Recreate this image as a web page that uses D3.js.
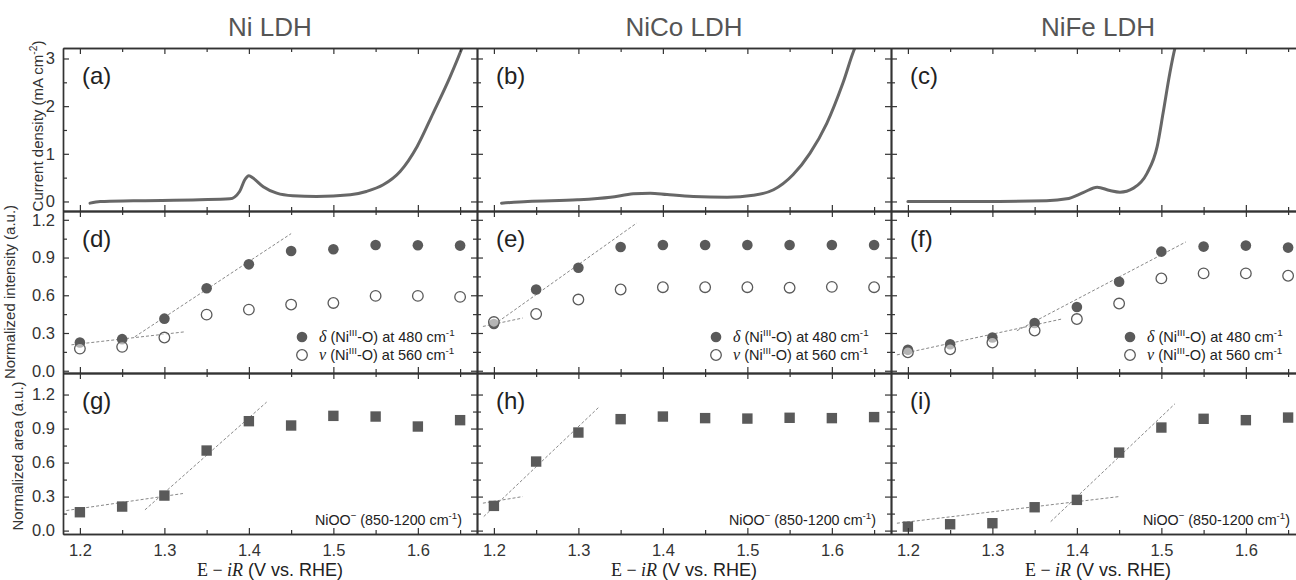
<!DOCTYPE html>
<html>
<head>
<meta charset="utf-8">
<script src="https://cdn.jsdelivr.net/npm/d3@7"></script>
<style>
body{margin:0;background:#fff;}
svg{display:block;font-family:"Liberation Sans",Arial,sans-serif;}
</style>
</head>
<body>
<svg id="fig" width="1296" height="580"></svg>
<script>
let samples=["Ni LDH","NiCo LDH","NiFe LDH"];
let tags=[["(a)","(b)","(c)"],["(d)","(e)","(f)"],["(g)","(h)","(i)"]];
let potential=[1.2,1.25,1.3,1.35,1.4,1.45,1.5,1.55,1.6,1.65];
let xMajor=[1.2,1.3,1.4,1.5,1.6];
let xMinor=[1.25,1.35,1.45,1.55,1.65];
let jMajor=[0,1,2,3], jMinor=[0.5,1.5,2.5];
let nMajor=[0,0.3,0.6,0.9,1.2], nMinor=[0.15,0.45,0.75,1.05];

// LSV curves [E, j]
let lsvNi=[[1.212,-0.035],[1.224,0.0],[1.263,0.015],[1.342,0.035],[1.3775,0.055],[1.389,0.21],[1.395,0.45],[1.4,0.54],[1.405,0.49],[1.417,0.31],[1.433,0.175],[1.452,0.12],[1.48,0.105],[1.52,0.14],[1.539,0.21],[1.559,0.35],[1.579,0.63],[1.599,1.15],[1.618,1.85],[1.638,2.61],[1.652,3.21],[1.655,3.35]];
let lsvNiCo=[[1.209,-0.035],[1.24,0.0],[1.299,0.035],[1.338,0.09],[1.365,0.16],[1.385,0.175],[1.405,0.145],[1.436,0.105],[1.476,0.09],[1.507,0.13],[1.531,0.245],[1.554,0.56],[1.574,1.01],[1.594,1.64],[1.613,2.48],[1.627,3.21],[1.632,3.4]];
let lsvNiFe=[[1.2,0.0],[1.286,0.0],[1.364,0.015],[1.388,0.055],[1.408,0.19],[1.424,0.3],[1.439,0.23],[1.451,0.195],[1.467,0.28],[1.483,0.59],[1.495,1.15],[1.502,1.85],[1.51,2.69],[1.516,3.21],[1.519,3.4]];

// normalized Raman intensities
let deltaNi=[0.224,0.251,0.414,0.656,0.846,0.952,0.966,1.0,0.998,0.995];
let nuNi=[0.176,0.19,0.264,0.446,0.486,0.526,0.539,0.595,0.595,0.587];
let deltaNiCo=[0.372,0.646,0.819,0.984,1.0,1.0,1.0,1.0,1.0,1.0];
let nuNiCo=[0.387,0.451,0.566,0.646,0.664,0.664,0.664,0.66,0.667,0.664];
let deltaNiFe=[0.166,0.211,0.264,0.379,0.507,0.707,0.947,0.987,0.995,0.979];
let nuNiFe=[0.147,0.171,0.224,0.32,0.411,0.534,0.734,0.774,0.774,0.755];

// normalized NiOO- areas
let areaNi=[0.162,0.212,0.309,0.706,0.965,0.927,1.012,1.006,0.918,0.974];
let areaNiCo=[0.218,0.609,0.865,0.983,1.006,0.992,0.988,0.995,0.992,1.001];
let areaNiFe=[0.035,0.056,0.065,0.206,0.271,0.688,0.909,0.986,0.974,0.997];

// dashed fit lines, end points [E, value]
let fitIntNi=[[[1.19,0.206],[1.325,0.31]],[[1.265,0.27],[1.45,1.09]]];
let fitIntNiCo=[[[1.187,0.352],[1.234,0.419]],[[1.2,0.366],[1.369,1.174]]];
let fitIntNiFe=[[[1.187,0.126],[1.382,0.411]],[[1.329,0.318],[1.529,1.024]]];
let fitAreaNi=[[[1.184,0.177],[1.322,0.327]],[[1.277,0.183],[1.421,1.133]]];
let fitAreaNiCo=[[[1.187,0.242],[1.234,0.300]],[[1.188,0.124],[1.325,1.094]]];
let fitAreaNiFe=[[[1.187,0.065],[1.45,0.300]],[[1.369,0.079],[1.516,1.118]]];

let lsv=[lsvNi,lsvNiCo,lsvNiFe];
let deltas=[deltaNi,deltaNiCo,deltaNiFe];
let nus=[nuNi,nuNiCo,nuNiFe];
let areas=[areaNi,areaNiCo,areaNiFe];
let fitsInt=[fitIntNi,fitIntNiCo,fitIntNiFe];
let fitsArea=[fitAreaNi,fitAreaNiCo,fitAreaNiFe];

let svg=d3.select("#fig");
let colX=[63,477,891], pw=414;
let rowY=[48,211,373,534];
let yDom=[[-0.2,3.22],[-0.018,1.27],[-0.03,1.39]];
let ink="#333", markC="#5a5a5a";
let serif="'Liberation Serif','DejaVu Serif',serif";

function styleAxis(g){
  g.select(".domain").attr("stroke",ink).attr("stroke-width",1.4);
  g.selectAll(".tick line").attr("stroke",ink).attr("stroke-width",1.2);
  g.selectAll(".tick text").attr("fill","#333").style("font-size","16.5px").style("font-family","'Liberation Sans',Arial,sans-serif");
}

function axes(x,y,r,c){
  let yM=r==0?jMajor:nMajor, ym=r==0?jMinor:nMinor;
  let yFmt=r==0?d3.format("d"):d3.format(".1f");
  let b=rowY[r+1], t=rowY[r], l=colX[c], rr=colX[c]+pw;
  let defs=[
    [d3.axisBottom(x).tickValues(xMajor).tickSize(-6).tickPadding(10).tickFormat(r==2?d3.format(".1f"):""),`translate(0,${b})`],
    [d3.axisBottom(x).tickValues(xMinor).tickSize(-4).tickFormat(""),`translate(0,${b})`],
    [d3.axisTop(x).tickValues(xMajor).tickSize(-6).tickFormat(""),`translate(0,${t})`],
    [d3.axisTop(x).tickValues(xMinor).tickSize(-4).tickFormat(""),`translate(0,${t})`],
    [d3.axisLeft(y).tickValues(yM).tickSize(-6).tickPadding(8).tickFormat(c==0?yFmt:""),`translate(${l},0)`],
    [d3.axisLeft(y).tickValues(ym).tickSize(-4).tickFormat(""),`translate(${l},0)`],
    [d3.axisRight(y).tickValues(yM).tickSize(-6).tickFormat(""),`translate(${rr},0)`],
    [d3.axisRight(y).tickValues(ym).tickSize(-4).tickFormat(""),`translate(${rr},0)`]
  ];
  defs.forEach(d=>{
    let g=svg.append("g").attr("transform",d[1]).call(d[0].tickSizeOuter(0));
    styleAxis(g);
  });
}

function sup(txt,s){
  // superscript tspan; caller steps back down with dy
  txt.append("tspan").attr("dy",-6).style("font-size","0.68em").text(s);
}

for(let c=0;c<3;c++){
  let x=d3.scaleLinear().domain([1.18,1.67]).range([colX[c],colX[c]+pw]);
  svg.append("text").attr("x",colX[c]+pw/2).attr("y",36).attr("text-anchor","middle")
    .style("font-size","26px").attr("fill","#555").text(samples[c]);
  for(let r=0;r<3;r++){
    let y=d3.scaleLinear().domain(yDom[r]).range([rowY[r+1],rowY[r]]);
    let cid="clip"+r+c;
    svg.append("clipPath").attr("id",cid).append("rect")
      .attr("x",colX[c]).attr("y",rowY[r]).attr("width",pw).attr("height",rowY[r+1]-rowY[r]);
    let pg=svg.append("g").attr("clip-path",`url(#${cid})`);

    if(r==0){
      let line=d3.line().x(d=>x(d[0])).y(d=>y(d[1])).curve(d3.curveMonotoneX);
      pg.append("path").datum(lsv[c]).attr("d",line).attr("fill","none")
        .attr("stroke","#676767").attr("stroke-width",3).attr("stroke-linecap","round");
    }
    if(r==1){
      fitsInt[c].forEach(f=>{
        pg.append("line").attr("x1",x(f[0][0])).attr("y1",y(f[0][1])).attr("x2",x(f[1][0])).attr("y2",y(f[1][1]))
          .attr("stroke","#888").attr("stroke-width",1).attr("stroke-dasharray","3,2");
      });
      pg.selectAll(".dl").data(potential).enter().append("circle")
        .attr("cx",d=>x(d)).attr("cy",(d,i)=>y(deltas[c][i])).attr("r",5.3).attr("fill",markC);
      pg.selectAll(".nu").data(potential).enter().append("circle")
        .attr("cx",d=>x(d)).attr("cy",(d,i)=>y(nus[c][i])).attr("r",5.3)
        .attr("fill","#fff").attr("fill-opacity",0.55).attr("stroke",markC).attr("stroke-width",1.3);
      // legend
      let lx=colX[c]+239, ly=rowY[1]+126;
      svg.append("circle").attr("cx",lx).attr("cy",ly).attr("r",5.3).attr("fill",markC);
      svg.append("circle").attr("cx",lx).attr("cy",ly+18).attr("r",5.3).attr("fill","#fff").attr("stroke",markC).attr("stroke-width",1.3);
      [["δ","480"],["ν","560"]].forEach((lg,k)=>{
        let t=svg.append("text").attr("x",lx+17).attr("y",ly+18*k+5).style("font-size","14.5px").attr("fill","#222");
        t.append("tspan").style("font-family",serif).style("font-style","italic").style("font-size","16px").text(lg[0]);
        t.append("tspan").text(" (Ni");
        sup(t,"III");
        t.append("tspan").attr("dy",6).text("-O) at "+lg[1]+" cm");
        sup(t,"-1");
      });
    }
    if(r==2){
      fitsArea[c].forEach(f=>{
        pg.append("line").attr("x1",x(f[0][0])).attr("y1",y(f[0][1])).attr("x2",x(f[1][0])).attr("y2",y(f[1][1]))
          .attr("stroke","#888").attr("stroke-width",1).attr("stroke-dasharray","3,2");
      });
      pg.selectAll(".sq").data(potential).enter().append("rect")
        .attr("x",d=>x(d)-5.2).attr("y",(d,i)=>y(areas[c][i])-5.2).attr("width",10.4).attr("height",10.4).attr("fill",markC);
      let t=svg.append("text").attr("x",colX[c]+pw-15).attr("y",rowY[3]-9).attr("text-anchor","end")
        .style("font-size","14.3px").attr("fill","#222");
      t.append("tspan").text("NiOO");
      sup(t,"−");
      t.append("tspan").attr("dy",6).text(" (850-1200 cm");
      sup(t,"-1");
      t.append("tspan").attr("dy",6).text(")");
      // x title
      let xt=svg.append("text").attr("x",colX[c]+pw/2).attr("y",576).attr("text-anchor","middle")
        .style("font-size","18px").attr("fill","#222");
      xt.append("tspan").style("font-family",serif).text("E − ");
      xt.append("tspan").style("font-family",serif).style("font-style","italic").text("iR");
      xt.append("tspan").text(" (V vs. RHE)");
    }
    axes(x,y,r,c);
    svg.append("text").attr("x",colX[c]+19).attr("y",rowY[r]+36).style("font-size","24px").attr("fill","#222").text(tags[r][c]);
  }
}

// y titles
let yt1=svg.append("text").attr("transform","translate(43,126) rotate(-90)").attr("text-anchor","middle")
  .style("font-size","15px").attr("fill","#333");
yt1.append("tspan").text("Current density (mA cm");
sup(yt1,"-2");
yt1.append("tspan").attr("dy",6).text(")");
svg.append("text").attr("transform","translate(15,292) rotate(-90)").attr("text-anchor","middle")
  .style("font-size","15px").attr("fill","#333").text("Normalized intensity (a.u.)");
svg.append("text").attr("transform","translate(23,456) rotate(-90)").attr("text-anchor","middle")
  .style("font-size","15px").attr("fill","#333").text("Normalized area (a.u.)");
</script>
</body>
</html>
